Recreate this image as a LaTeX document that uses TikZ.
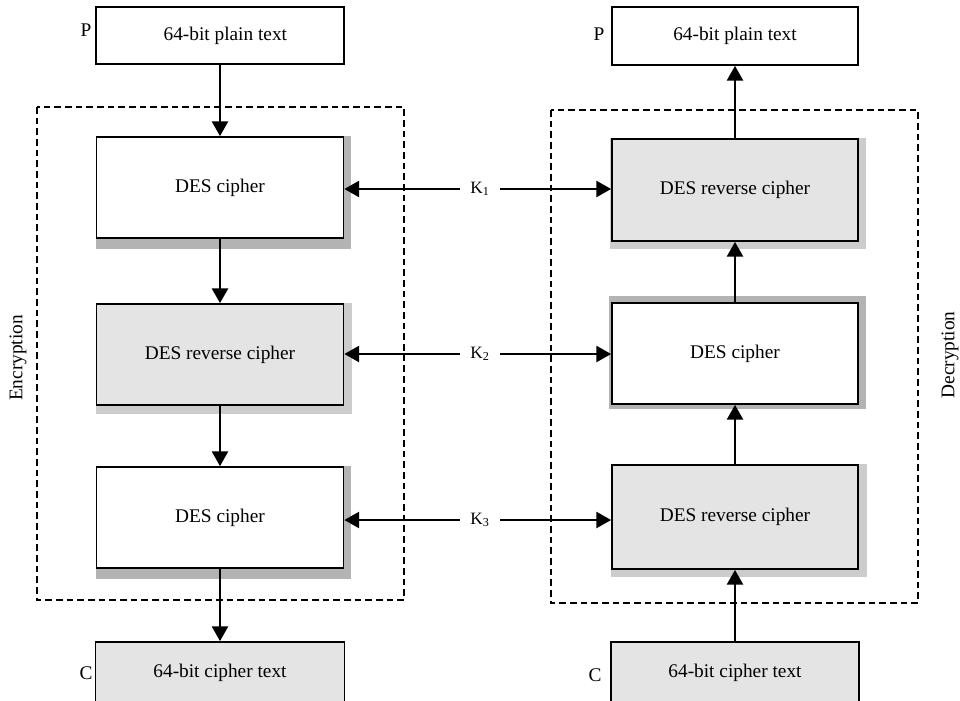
\documentclass[tikz,border=0pt]{standalone}
\usepackage{fontspec}
\setmainfont{Liberation Serif}
\usetikzlibrary{arrows.meta,calc,backgrounds}
\definecolor{boxgray}{HTML}{E4E4E4}
\definecolor{shdark}{HTML}{B3B3B3}
\definecolor{shlight}{HTML}{CCCCCC}
\tikzset{
  txt/.style={font=\fontsize{14.5}{17}\selectfont},
  blk/.style={draw=black, line width=1.3pt, inner sep=0pt, txt},
  wbox/.style={blk, fill=white},
  gbox/.style={blk, fill=boxgray},
  arr/.style={line width=1.5pt, -{Triangle[length=11pt,width=12pt]}},
  dbox/.style={draw=black, line width=1.3pt, dash pattern=on 5pt off 3pt},
}
\begin{document}
\begin{tikzpicture}[x=0.75pt,y=-0.75pt]
\useasboundingbox (0,0) rectangle (960,700);

% left column (encryption)
\node[wbox, minimum width=186pt, minimum height=42.75pt] (lp) at (220,35.5) {\hspace*{8pt}64-bit plain text};
\node[wbox, minimum width=185.25pt, minimum height=75.75pt] (e1) at (220,187.5) {DES cipher};
\node[gbox, minimum width=185.25pt, minimum height=75.75pt] (e2) at (220,354.5) {DES reverse cipher};
\node[wbox, minimum width=185.25pt, minimum height=75.75pt] (e3) at (220,517.5) {DES cipher};
\node[gbox, minimum width=186.75pt, minimum height=46.5pt] (lc) at (220,673) {\raisebox{4pt}{64-bit cipher text}};
\node[txt] (lpl) at (86,30) {P};
\node[txt] (lcl) at (86,673) {C};

% right column (decryption)
\node[wbox, minimum width=184.5pt, minimum height=43.5pt] (rp) at (735,36) {64-bit plain text};
\node[gbox, minimum width=184.5pt, minimum height=76.5pt] (d1) at (735,190) {DES reverse cipher};
\node[wbox, minimum width=184.5pt, minimum height=75.75pt] (d2) at (735,353.5) {DES cipher};
\node[gbox, minimum width=184.5pt, minimum height=78pt] (d3) at (735,517) {DES reverse cipher};
\node[gbox, minimum width=186pt, minimum height=46.5pt] (rc) at (735,673) {\raisebox{4pt}{64-bit cipher text}};
\node[txt] (rpl) at (599,34) {P};
\node[txt] (rcl) at (595,675) {C};

% shadows
\begin{scope}[on background layer]
  \fill[shdark] (e1.north west) rectangle ($(e1.south east)+(7,10)$);
  \fill[shlight] (e2.north west) rectangle ($(e2.south east)+(8,8)$);
  \fill[shdark] (e3.north west) rectangle ($(e3.south east)+(7,10)$);
  \fill[shlight] ($(d1.north west)+(-1,0)$) rectangle ($(d1.south east)+(7,7)$);
  \fill[shdark] ($(d2.north west)+(-2,-6)$) rectangle ($(d2.south east)+(7,4)$);
  \fill[shlight] (d3.north west) rectangle ($(d3.south east)+(8,7)$);
\end{scope}

% dashed frames
\coordinate (encA) at (37,107);
\coordinate (encB) at (404,600);
\coordinate (decA) at (551,110);
\coordinate (decB) at (918,603);
\draw[dbox] (encA) rectangle (encB);
\draw[dbox] (decA) rectangle (decB);

\node[txt, rotate=90] (enc) at (18,358) {Encryption};
\node[txt, rotate=90] (dec) at (950,355) {Decryption};

% vertical flow arrows
\draw[arr] (lp) -- (e1);
\draw[arr] (e1) -- (e2);
\draw[arr] (e2) -- (e3);
\draw[arr] (e3) -- (lc);
\draw[arr] (rc) -- (d3);
\draw[arr] (d3) -- (d2);
\draw[arr] (d2) -- (d1);
\draw[arr] (d1) -- (rp);

% keys
\node[txt, font=\fontsize{13}{15}\selectfont, minimum width=30pt, inner sep=0pt] (k1) at (480,189) {K\textsubscript{1}};
\node[txt, font=\fontsize{13}{15}\selectfont, minimum width=30pt, inner sep=0pt] (k2) at (480,354) {K\textsubscript{2}};
\node[txt, font=\fontsize{13}{15}\selectfont, minimum width=30pt, inner sep=0pt] (k3) at (480,520) {K\textsubscript{3}};
\draw[arr] (k1.west) -- (k1.west -| e1.east);
\draw[arr] (k1.east) -- (k1.east -| d1.west);
\draw[arr] (k2.west) -- (k2.west -| e2.east);
\draw[arr] (k2.east) -- (k2.east -| d2.west);
\draw[arr] (k3.west) -- (k3.west -| e3.east);
\draw[arr] (k3.east) -- (k3.east -| d3.west);
\end{tikzpicture}
\end{document}
